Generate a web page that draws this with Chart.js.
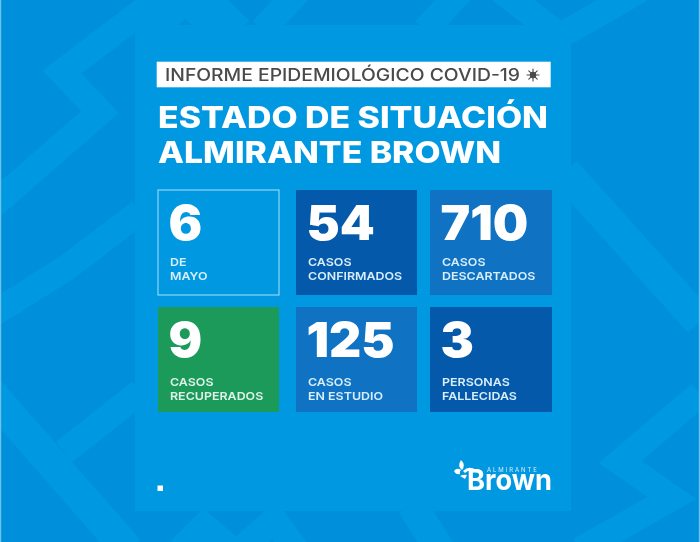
<!DOCTYPE html>
<html lang="es">
<head>
<meta charset="utf-8">
<title>Informe epidemiológico COVID-19</title>
<script src="https://cdn.jsdelivr.net/npm/chart.js@4"></script>
<style>
  html, body { margin: 0; padding: 0; background: #0090dc; }
  #wrap { position: relative; width: 700px; height: 542px; overflow: hidden; }
  #bg, #chart { position: absolute; left: 0; top: 0; }
</style>
</head>
<body>
<div id="wrap">
  <svg id="bg" width="700" height="542" viewBox="0 0 700 542">
    <rect width="700" height="542" fill="#008fdb"/>
    <g fill="none" stroke="#0098e1" stroke-width="26" stroke-linejoin="miter">
      <polyline points="-10,208 100,112 62,72 170,-10"/>
      <polyline points="-10,316 66,268 140,212"/>
      <polyline points="-14,388 128,550" stroke-width="32"/>
      <polyline points="64,452 140,392"/>
      <polyline points="700,394 620,462 672,498 580,550"/>
      <polyline points="565,172 700,322" stroke-width="32"/>
      <polyline points="500,-10 560,36 640,-10"/>
      <polyline points="200,-10 240,30"/>
      <polyline points="300,-10 262,30"/>
      <polyline points="425,30 462,-10"/>
      <polyline points="412,505 440,550" stroke-width="30"/>
      <polyline points="180,550 204,526 232,550"/>
      <polyline points="240,550 274,520 296,550"/>
      <polyline points="150,30 187,2 215,30"/>
    </g>
    <rect x="135" y="25" width="436" height="486" fill="#0098e1"/>
    <rect x="0" y="0" width="1.2" height="542" fill="#6fc4ee"/>
    <rect x="698.8" y="0" width="1.2" height="542" fill="#6fc4ee"/>
    <rect x="156.7" y="61.7" width="394" height="25.6" fill="#ffffff"/>
    <g stroke="#4a4a4a" stroke-width="1.1" stroke-linecap="round">
      <line x1="527" y1="75" x2="539" y2="75"/>
      <line x1="533" y1="69" x2="533" y2="81"/>
      <line x1="528.8" y1="70.8" x2="537.2" y2="79.2"/>
      <line x1="537.2" y1="70.8" x2="528.8" y2="79.2"/>
    </g>
    <circle cx="533" cy="75" r="3.2" fill="#4a4a4a"/>
    <rect x="157.5" y="485.5" width="5.5" height="5.5" fill="#ffffff"/>
    <g fill="#ffffff">
      <path d="M454 471 q3 -4 7 -1 q-2 2 -1 4 q-4 1 -6 -3z"/>
      <path d="M461 460 q5 5 1 10 q-5 -4 -1 -10z"/>
      <path d="M460 476 q4 -2 7 -1 l-2 4 q-3 -2 -5 -3z"/>
      <path d="M463 471 q6 -6 13 -1 l-2 2 q-5 -3 -9 1z"/>
    </g>
  </svg>
  <canvas id="chart" width="700" height="542"></canvas>
</div>
<script>
// the six cards, two rows of three
const columns = ['izquierda', 'centro', 'derecha'];
const topValues = [6, 54, 710];
const bottomValues = [9, 125, 3];
const topLabels = [['DE', 'MAYO'], ['CASOS', 'CONFIRMADOS'], ['CASOS', 'DESCARTADOS']];
const bottomLabels = [['CASOS', 'RECUPERADOS'], ['CASOS', 'EN ESTUDIO'], ['PERSONAS', 'FALLECIDAS']];
const topCells = [[1, 2], [1, 2], [1, 2]];
const bottomCells = [[0, 1], [0, 1], [0, 1]];

const topColors = ['transparent', '#0459ab', '#0f72c3'];
const bottomColors = ['#1b9a5a', '#0f72c3', '#0459ab'];

// gaps between cards are not even, so each column gets its own inset
const insets = [
    { left: 7.75, right: 7.75, top: 6, bottom: 6 },
    { left: 9.25, right: 6.25, top: 6, bottom: 6 },
    { left: 6.75, right: 7.75, top: 6, bottom: 6 }
];

const FONT = 'Inter, "Noto Sans", sans-serif';

// reference type is wider than Inter, stretch it sideways
function wideText(ctx, text, x, y, font, sx, color) {
    ctx.save();
    ctx.font = font;
    ctx.fillStyle = color;
    ctx.translate(x, y);
    ctx.scale(sx, 1);
    ctx.fillText(text, 0, 0);
    ctx.restore();
}

function fitText(ctx, text, x, y, font, width, color) {
    ctx.font = font;
    wideText(ctx, text, x, y, font, width / ctx.measureText(text).width, color);
}

const cardText = {
    id: 'cardText',
    afterDatasetsDraw(chart) {
        const ctx = chart.ctx;
        ctx.save();
        ctx.textBaseline = 'alphabetic';
        ctx.textAlign = 'left';

        [[topValues, topLabels, 0], [bottomValues, bottomLabels, 1]].forEach(([values, labels, d]) => {
            chart.getDatasetMeta(d).data.forEach((bar, i) => {
                const left = bar.x - bar.width / 2 + insets[i].left;
                const top = Math.min(bar.y, bar.base) + insets[i].top;
                wideText(ctx, String(values[i]), left + 10.5, top + 50, '900 48px ' + FONT, 1.04, '#ffffff');
                const labelY = top + (d === 0 ? 76 : 79);
                const color = d === 1 && i === 0 ? '#dff3ea' : '#d8eefb';
                wideText(ctx, labels[i][0], left + 12, labelY, '600 11px ' + FONT, 1.13, color);
                wideText(ctx, labels[i][1], left + 12, labelY + 13.5, '600 11px ' + FONT, 1.13, color);
            });
        });

        // first card only has an outline
        const first = chart.getDatasetMeta(0).data[0];
        const l = first.x - first.width / 2 + insets[0].left;
        const t = Math.min(first.y, first.base) + insets[0].top;
        ctx.strokeStyle = '#8fd4f4';
        ctx.lineWidth = 1.2;
        ctx.strokeRect(l, t, first.width - insets[0].left - insets[0].right, Math.abs(first.base - first.y) - insets[0].top - insets[0].bottom);

        // headings
        fitText(ctx, 'INFORME EPIDEMIOLÓGICO COVID-19', 165, 80.7, '500 17px ' + FONT, 355, '#4a4a4a');
        fitText(ctx, 'ESTADO DE SITUACIÓN', 158, 127.7, '800 30px ' + FONT, 390, '#ffffff');
        fitText(ctx, 'ALMIRANTE BROWN', 158, 162.7, '800 30px ' + FONT, 343, '#ffffff');

        // logo
        ctx.letterSpacing = '1.9px';
        wideText(ctx, 'ALMIRANTE', 487, 472, '400 6px ' + FONT, 1, '#d8eefb');
        ctx.letterSpacing = '0px';
        fitText(ctx, 'Brown', 467, 490, '700 29px ' + FONT, 85, '#ffffff');
        ctx.restore();
    }
};

new Chart(document.getElementById('chart'), {
    type: 'bar',
    data: {
        labels: columns,
        datasets: [
            { label: 'fila superior', data: topCells, backgroundColor: topColors },
            { label: 'fila inferior', data: bottomCells, backgroundColor: bottomColors }
        ]
    },
    options: {
        responsive: false,
        animation: false,
        layout: { padding: { left: 150.25, right: 140.25, top: 184, bottom: 124 } },
        datasets: {
            bar: {
                grouped: false,
                barPercentage: 1,
                categoryPercentage: 1,
                borderColor: 'transparent',
                borderSkipped: false,
                inflateAmount: 0,
                borderWidth: c => insets[c.dataIndex]
            }
        },
        scales: {
            x: { display: false },
            y: { display: false, min: 0, max: 2 }
        },
        plugins: { legend: { display: false }, tooltip: { enabled: false } }
    },
    plugins: [cardText]
});
</script>
</body>
</html>
